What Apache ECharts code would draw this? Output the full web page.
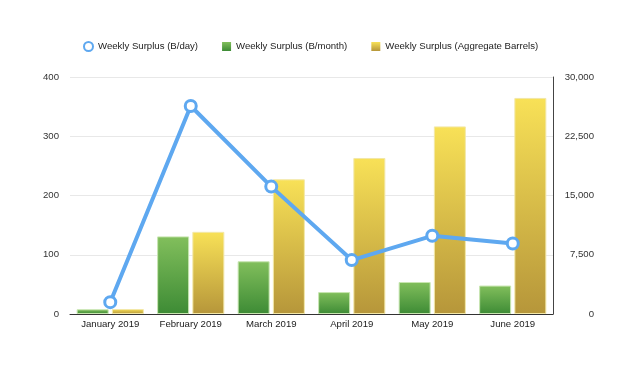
<!DOCTYPE html>
<html><head><meta charset="utf-8">
<script src="https://cdn.jsdelivr.net/npm/echarts@6/dist/echarts.min.js"></script>
<style>html,body{margin:0;padding:0;background:#fff}#c{width:640px;height:372px}</style>
</head><body><div id="c"></div>
<script>
const categories = ['January 2019','February 2019','March 2019','April 2019','May 2019','June 2019'];
const perDay = [20, 351, 215, 91, 132, 119];
const perMonth = [8, 131, 89, 37, 54, 48];
const aggregate = [630, 10400, 17050, 19750, 23750, 27350];
const leftTicks = [0, 100, 200, 300, 400];
const rightTicks = [0, 7500, 15000, 22500, 30000];

const chart = echarts.init(document.getElementById('c'), null, {renderer:'canvas'});
const font = 'Liberation Sans, Arial, Helvetica, sans-serif';
const fs = 9.6;
const grad = (a,b)=>new echarts.graphic.LinearGradient(0,0,0,1,[{offset:0,color:a},{offset:1,color:b}]);
chart.setOption({
  animation:false,
  textStyle:{fontFamily:font},
  legend:{
    top:36, left:78, itemGap:24, itemWidth:9, itemHeight:9,
    textStyle:{fontSize:fs, color:'#222', fontFamily:font},
    data:[
      {name:'Weekly Surplus (B/day)', icon:'circle',
       itemStyle:{color:'#ffffff', borderColor:'#5ea8f0', borderWidth:2, opacity:1}},
      {name:'Weekly Surplus (B/month)', icon:'rect', itemStyle:{borderWidth:0}},
      {name:'Weekly Surplus (Aggregate Barrels)', icon:'rect', itemStyle:{borderWidth:0}}
    ]
  },
  grid:{left:70, right:87, top:77, bottom:58},
  xAxis:{
    type:'category', data:categories,
    axisLine:{lineStyle:{color:'#333', width:1}},
    axisTick:{show:false},
    axisLabel:{color:'#222', fontSize:fs, margin:5, interval:0, fontFamily:font}
  },
  yAxis:[
    {type:'value', min:leftTicks[0], max:leftTicks[leftTicks.length-1], interval:100,
     axisLine:{show:false}, axisTick:{show:false},
     axisLabel:{color:'#333', fontSize:fs, margin:11, fontFamily:font},
     splitLine:{lineStyle:{color:'#e8e8e8'}}},
    {type:'value', min:rightTicks[0], max:rightTicks[rightTicks.length-1], interval:7500,
     position:'right',
     axisLine:{show:true, lineStyle:{color:'#444'}}, axisTick:{show:false},
     axisLabel:{color:'#333', fontSize:fs, margin:41, align:'right', fontFamily:font,
       formatter:v=>v.toLocaleString('en-US')},
     splitLine:{show:false}}
  ],
  series:[
    {name:'Weekly Surplus (B/month)', type:'bar', yAxisIndex:0, data:perMonth,
     barWidth:32, barGap:'10%',
     itemStyle:{color:grad('#82bf5c','#3d8b35'), borderColor:'#c8e6b0', borderWidth:1}},
    {name:'Weekly Surplus (Aggregate Barrels)', type:'bar', yAxisIndex:1, data:aggregate,
     barWidth:32,
     itemStyle:{color:grad('#f8e157','#b6963a'), borderColor:'#f3e8a8', borderWidth:1}},
    {name:'Weekly Surplus (B/day)', type:'line', yAxisIndex:0, data:perDay,
     symbol:'circle', symbolSize:11, z:5,
     lineStyle:{color:'#5ea8f0', width:4},
     itemStyle:{color:'#ffffff', borderColor:'#5ea8f0', borderWidth:3}}
  ]
});
</script></body></html>
